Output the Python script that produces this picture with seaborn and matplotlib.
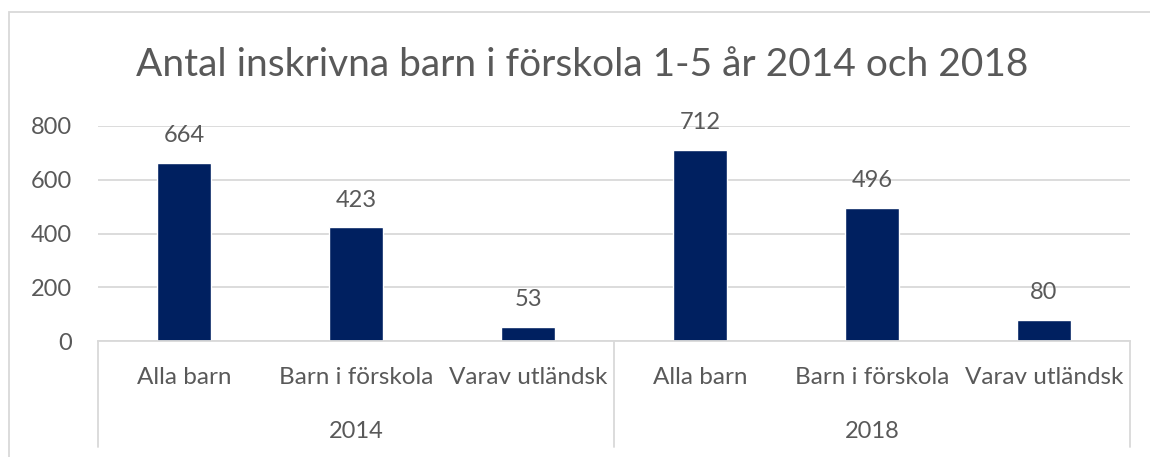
import pandas as pd
import matplotlib.pyplot as plt
import seaborn as sns
from matplotlib.patches import Rectangle

# data
years = ["2014", "2018"]
groups = ["Alla barn", "Barn i förskola", "Varav utländsk"]
values_2014 = [664, 423, 53]
values_2018 = [712, 496, 80]

rows = []
for year, vals in zip(years, [values_2014, values_2018]):
    for g, v in zip(groups, vals):
        rows.append({"year": year, "group": g, "slot": f"{year} {g}", "antal": v})
df = pd.DataFrame(rows)

sns.set_theme(style="white")
plt.rcParams["font.family"] = ["Lato", "DejaVu Sans"]

text_col = "#595959"
grid_col = "#d9d9d9"
bar_col = "#002060"

fig = plt.figure(figsize=(11.5, 4.57), dpi=100)
ax = fig.add_axes([98 / 1150, 1 - 341 / 457, 1032 / 1150, 215 / 457])

sns.barplot(data=df, x="slot", y="antal", color=bar_col, width=0.31,
            saturation=1, ax=ax)

ax.set_xlim(-0.5, len(df) - 0.5)
ax.set_ylim(0, 800)
ax.set_yticks([0, 200, 400, 600, 800])
ax.yaxis.grid(True, color=grid_col, linewidth=1.3)
ax.set_axisbelow(True)
for s in ["top", "right", "left"]:
    ax.spines[s].set_visible(False)
ax.spines["bottom"].set_color(grid_col)
ax.spines["bottom"].set_linewidth(1.3)
ax.tick_params(axis="y", length=0, pad=19, labelsize=17, labelcolor=text_col)
ax.tick_params(axis="x", length=0, pad=19, labelsize=17.5, labelcolor=text_col)
ax.set_xticks(range(len(df)))
ax.set_xticklabels(df["group"])
ax.set_xlabel("")
ax.set_ylabel("")

# value labels
for c in ax.containers:
    ax.bar_label(c, labels=[str(v) for v in df["antal"]], padding=12,
                 fontsize=17, color=text_col)

# year labels and separators below the axis
trans = ax.get_xaxis_transform()
n = len(groups)
for i, year in enumerate(years):
    mid = i * n + (n - 1) / 2
    ax.text(mid, -0.42, year, transform=trans, ha="center", va="center",
            fontsize=17, color=text_col)
for xpos in [-0.5, n - 0.5, 2 * n - 0.5]:
    ax.plot([xpos, xpos], [0, -0.493], transform=trans, color=grid_col,
            linewidth=1.3, clip_on=False)

fig.suptitle("Antal inskrivna barn i förskola 1-5 år 2014 och 2018",
             x=0.506, y=1 - 65 / 457, va="center", fontsize=28, color=text_col)

# outer chart frame
fig.patches.append(Rectangle((9 / 1150, -0.05), 1.2, 1 - 12 / 457 + 0.05,
                             transform=fig.transFigure, fill=False,
                             edgecolor=grid_col, linewidth=1.3))

fig.savefig("out.png", dpi=100)
